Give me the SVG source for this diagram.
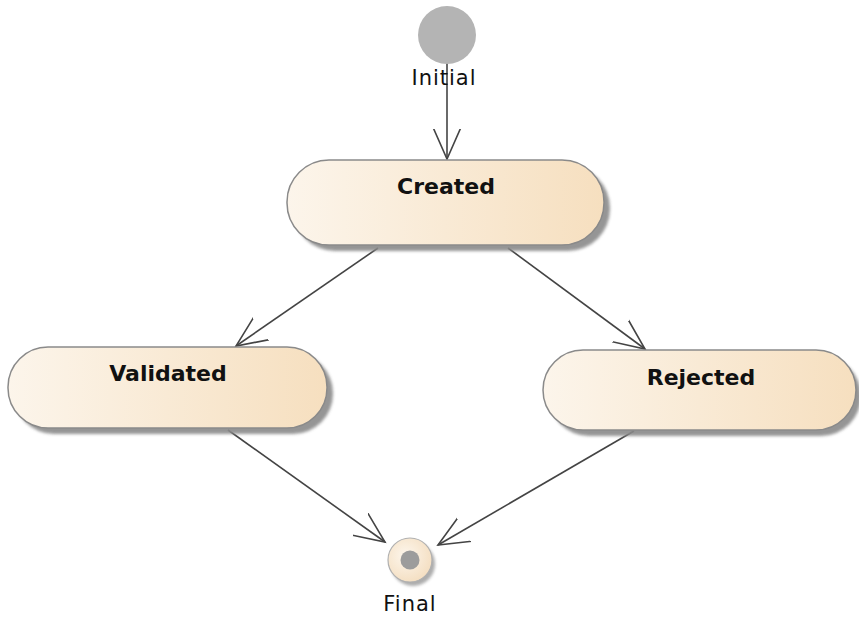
<svg xmlns="http://www.w3.org/2000/svg" width="859" height="619" viewBox="0 0 859 619">
<style>
.state{stroke:#8a8a8a;stroke-width:1.5;fill:url(#g)}
.shadow{fill:#8a8a8a;opacity:0.9}
.name{font-family:"DejaVu Sans",Verdana,sans-serif;font-weight:bold;font-size:22px;fill:#111;text-anchor:middle}
.lbl{font-family:"DejaVu Sans",Verdana,sans-serif;font-size:21px;fill:#111;text-anchor:middle;letter-spacing:1px}
.conn{stroke:#444;stroke-width:1.6;fill:none;marker-end:url(#arr)}
</style>
<defs>
<linearGradient id="g" x1="0" y1="0" x2="1" y2="0">
<stop offset="0" stop-color="#fcf5eb"/>
<stop offset="1" stop-color="#f6dfbf"/>
</linearGradient>
<radialGradient id="fg" cx="0.4" cy="0.4" r="0.7">
<stop offset="0" stop-color="#fdf6ec"/>
<stop offset="1" stop-color="#f3dcbd"/>
</radialGradient>
<filter id="blur" x="-20%" y="-20%" width="140%" height="140%"><feGaussianBlur stdDeviation="1.8"/></filter>
<marker id="arr" markerUnits="userSpaceOnUse" markerWidth="40" markerHeight="40" refX="0" refY="0" viewBox="-30 -20 40 40" orient="auto">
<path d="M-34,-15 L0,0 L-34,15" fill="none" stroke="#444" stroke-width="1.6"/>
</marker>
</defs>
<g id="connectors">
<line class="conn" x1="447" y1="62" x2="447" y2="159"/>
<line class="conn" x1="378" y1="248" x2="236" y2="346"/>
<line class="conn" x1="508" y1="248" x2="645" y2="349"/>
<line class="conn" x1="228" y1="430" x2="385" y2="542"/>
<line class="conn" x1="634" y1="431" x2="438" y2="545"/>
</g>
<g id="initial">
<circle cx="447" cy="35" r="29" fill="#b4b4b4"/>
<text class="lbl" x="444" y="85">Initial</text>
</g>
<g id="created">
<rect class="shadow" x="293" y="166" width="317" height="85" rx="42" filter="url(#blur)"/>
<rect class="state" x="287" y="160" width="317" height="85" rx="42"/>
<text class="name" x="446" y="194">Created</text>
</g>
<g id="validated">
<rect class="shadow" x="14" y="353" width="319" height="81" rx="40" filter="url(#blur)"/>
<rect class="state" x="8" y="347" width="319" height="81" rx="40"/>
<text class="name" x="168" y="381">Validated</text>
</g>
<g id="rejected">
<rect class="shadow" x="549" y="356" width="312" height="80" rx="40" filter="url(#blur)"/>
<rect class="state" x="543" y="350" width="313" height="80" rx="40"/>
<text class="name" x="701" y="385">Rejected</text>
</g>
<g id="final">
<circle cx="413" cy="564" r="22" fill="#8a8a8a" opacity="0.7" filter="url(#blur)"/>
<circle cx="410" cy="560" r="22" fill="url(#fg)" stroke="#b0b0b0" stroke-width="1.2"/>
<circle cx="410" cy="560" r="9.5" fill="#9c9c9c"/>
<text class="lbl" x="410" y="611">Final</text>
</g>
</svg>
